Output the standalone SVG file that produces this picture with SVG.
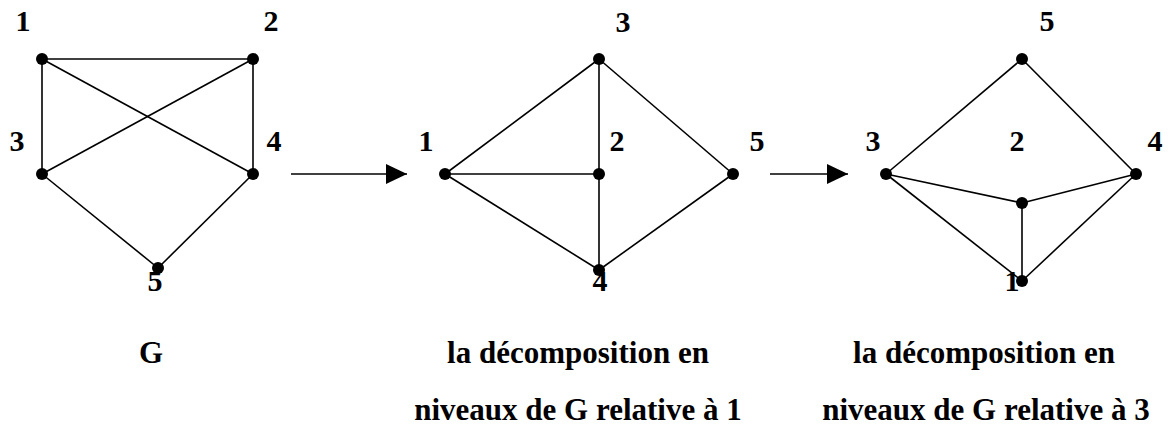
<svg xmlns="http://www.w3.org/2000/svg" width="1170" height="425" viewBox="0 0 1170 425">
<style>
.e{stroke:#000;stroke-width:1.6;fill:none}
.n{fill:#000}
.t{font-family:"Liberation Serif","Times New Roman",serif;font-weight:bold;font-size:30px;fill:#000;text-anchor:middle}
.c{font-family:"Liberation Serif","Times New Roman",serif;font-weight:bold;font-size:31px;fill:#000;text-anchor:middle}
</style>
<defs>
<marker id="ah" markerWidth="22" markerHeight="20" refX="21" refY="10" orient="auto" markerUnits="userSpaceOnUse">
<path d="M0,0 L21,10 L0,20 Z" fill="#000"/>
</marker>
</defs>
<rect width="1170" height="425" fill="#fff"/>
<g id="connectors">
<line class="e" x1="42" y1="59" x2="253" y2="59"/>
<line class="e" x1="42" y1="59" x2="42" y2="174"/>
<line class="e" x1="253" y1="59" x2="253" y2="174"/>
<line class="e" x1="42" y1="59" x2="253" y2="174"/>
<line class="e" x1="253" y1="59" x2="42" y2="174"/>
<line class="e" x1="42" y1="174" x2="158" y2="268"/>
<line class="e" x1="253" y1="174" x2="158" y2="268"/>
<line class="e" x1="291" y1="174" x2="407" y2="174" marker-end="url(#ah)"/>
<line class="e" x1="770" y1="174" x2="848" y2="174" marker-end="url(#ah)"/>
<line class="e" x1="445" y1="174" x2="599" y2="59"/>
<line class="e" x1="445" y1="174" x2="599" y2="174"/>
<line class="e" x1="445" y1="174" x2="599" y2="270"/>
<line class="e" x1="599" y1="59" x2="599" y2="270"/>
<line class="e" x1="599" y1="59" x2="733" y2="174"/>
<line class="e" x1="733" y1="174" x2="599" y2="270"/>
<line class="e" x1="886" y1="174" x2="1022" y2="59"/>
<line class="e" x1="1022" y1="59" x2="1136" y2="174"/>
<line class="e" x1="886" y1="174" x2="1022" y2="203"/>
<line class="e" x1="1136" y1="174" x2="1022" y2="203"/>
<line class="e" x1="1022" y1="203" x2="1022" y2="281"/>
<line class="e" x1="886" y1="174" x2="1022" y2="281"/>
<line class="e" x1="1136" y1="174" x2="1022" y2="281"/>
</g>
<g id="G-n1"><circle class="n" cx="42" cy="59" r="6"/><text class="t" x="23" y="31">1</text></g>
<g id="G-n2"><circle class="n" cx="253" cy="59" r="6"/><text class="t" x="271" y="31">2</text></g>
<g id="G-n3"><circle class="n" cx="42" cy="174" r="6"/><text class="t" x="17" y="151">3</text></g>
<g id="G-n4"><circle class="n" cx="253" cy="174" r="6"/><text class="t" x="274" y="151">4</text></g>
<g id="G-n5"><circle class="n" cx="158" cy="268" r="6"/><text class="t" x="155" y="291">5</text></g>

<g id="A-n1"><circle class="n" cx="445" cy="174" r="6"/><text class="t" x="426" y="151">1</text></g>
<g id="A-n3"><circle class="n" cx="599" cy="59" r="6"/><text class="t" x="623" y="32">3</text></g>
<g id="A-n2"><circle class="n" cx="599" cy="174" r="6"/><text class="t" x="617" y="151">2</text></g>
<g id="A-n5"><circle class="n" cx="733" cy="174" r="6"/><text class="t" x="757" y="151">5</text></g>
<g id="A-n4"><circle class="n" cx="599" cy="270" r="6"/><text class="t" x="600" y="291">4</text></g>

<g id="B-n5"><circle class="n" cx="1022" cy="59" r="6"/><text class="t" x="1047" y="31">5</text></g>
<g id="B-n3"><circle class="n" cx="886" cy="174" r="6"/><text class="t" x="873" y="151">3</text></g>
<g id="B-n2"><circle class="n" cx="1022" cy="203" r="6"/><text class="t" x="1017" y="151">2</text></g>
<g id="B-n4"><circle class="n" cx="1136" cy="174" r="6"/><text class="t" x="1155" y="151">4</text></g>
<g id="B-n1"><circle class="n" cx="1022" cy="281" r="6"/><text class="t" x="1012" y="291">1</text></g>

<g id="captions">
<text class="c" x="151" y="363">G</text>
<text class="c" x="578" y="363">la décomposition en</text>
<text class="c" x="578" y="420">niveaux de G relative à 1</text>
<text class="c" x="984" y="363">la décomposition en</text>
<text class="c" x="986" y="420">niveaux de G relative à 3</text>
</g>
</svg>
